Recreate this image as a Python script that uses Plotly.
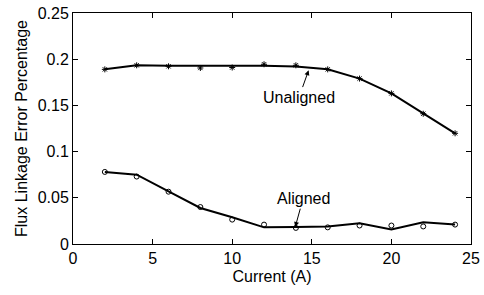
import plotly.graph_objects as go

current = [2, 4, 6, 8, 10, 12, 14, 16, 18, 20, 22, 24]

unaligned_line = [0.189, 0.1934, 0.193, 0.1927, 0.193, 0.193, 0.192, 0.189, 0.179, 0.163, 0.141, 0.1198]
unaligned_pts = [0.189, 0.1934, 0.1923, 0.1905, 0.191, 0.1945, 0.1934, 0.189, 0.179, 0.163, 0.141, 0.1198]

aligned_line = [0.078, 0.075, 0.057, 0.039, 0.029, 0.018, 0.0185, 0.019, 0.0225, 0.0156, 0.0235, 0.021]
aligned_pts = [0.078, 0.073, 0.0566, 0.040, 0.0264, 0.021, 0.0174, 0.018, 0.020, 0.020, 0.019, 0.021]

x_ticks = [0, 5, 10, 15, 20, 25]
y_ticks = [0, 0.05, 0.1, 0.15, 0.2, 0.25]
y_tick_labels = ["0", "0.05", "0.1", "0.15", "0.2", "0.25"]

FONT = "Liberation Sans, Arial, sans-serif"
FS = 16

fig = go.Figure()
fig.add_trace(go.Scatter(x=current, y=unaligned_line, mode="lines",
                         line=dict(color="black", width=2), showlegend=False))
fig.add_trace(go.Scatter(x=current, y=unaligned_pts, mode="markers",
                         marker=dict(symbol="asterisk-open", size=5, color="black",
                                     line=dict(color="black", width=1)), showlegend=False))
fig.add_trace(go.Scatter(x=current, y=aligned_line, mode="lines",
                         line=dict(color="black", width=2), showlegend=False))
fig.add_trace(go.Scatter(x=current, y=aligned_pts, mode="markers",
                         marker=dict(symbol="circle-open", size=5, color="black",
                                     line=dict(color="black", width=1)), showlegend=False))

fig.add_annotation(x=14.8, y=0.188, ax=14.2, ay=0.159, axref="x", ayref="y",
                   text="Unaligned", showarrow=True, arrowhead=2, arrowsize=1,
                   arrowwidth=1, arrowcolor="black",
                   font=dict(family=FONT, size=FS, color="black"))
fig.add_annotation(x=13.96, y=0.0185, ax=14.45, ay=0.049, axref="x", ayref="y",
                   text="Aligned", showarrow=True, arrowhead=2, arrowsize=1,
                   arrowwidth=1, arrowcolor="black",
                   font=dict(family=FONT, size=FS, color="black"))

axis_common = dict(showline=True, linecolor="black", linewidth=1, mirror="ticks",
                   ticks="inside", ticklen=5, tickcolor="black", showgrid=False,
                   zeroline=False, automargin=False,
                   tickfont=dict(family=FONT, size=FS, color="black"))

fig.update_xaxes(range=[0, 25], tickvals=x_ticks,
                 title=dict(text="Current (A)", font=dict(family=FONT, size=FS, color="black"),
                            standoff=4),
                 **axis_common)
fig.update_yaxes(range=[0, 0.25], tickvals=y_ticks, ticktext=y_tick_labels,
                 title=dict(text="Flux Linkage Error Percentage",
                            font=dict(family=FONT, size=FS, color="black"), standoff=6),
                 **axis_common)

fig.update_layout(width=484, height=295, margin=dict(l=73, r=13, t=13, b=51),
                  plot_bgcolor="white", paper_bgcolor="white", hovermode=False)

# remove the browser's default 8px body margin so the figure fills the window exactly
fig.write_html("out.html", config={"displayModeBar": False},
               post_script="document.body.style.margin='0';")
